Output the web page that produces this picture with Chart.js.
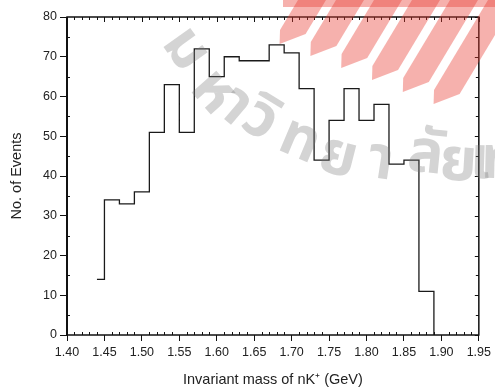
<!DOCTYPE html>
<html>
<head>
<meta charset="utf-8">
<script src="https://cdn.jsdelivr.net/npm/chart.js@4"></script>
<style>
  html, body { margin: 0; padding: 0; background: #fff; }
  #wrap { width: 495px; height: 388px; }
</style>
</head>
<body>
<div id="wrap"><canvas id="mass-chart" width="495" height="388"></canvas></div>
<script>
// left edge of each bin (GeV) and the events counted in it
const binStart = [1.44, 1.45, 1.47, 1.49, 1.51, 1.53, 1.55, 1.57, 1.59, 1.61, 1.63, 1.65,
    1.67, 1.69, 1.71, 1.73, 1.75, 1.77, 1.79, 1.81, 1.83, 1.85, 1.87]
const counts = [14, 34, 33, 36, 51, 63, 51, 72, 65, 70, 69, 69,
    73, 71, 62, 44, 54, 62, 54, 58, 43, 44, 11]
const lastEdge = 1.89

const xTicks = [1.40, 1.45, 1.50, 1.55, 1.60, 1.65, 1.70, 1.75, 1.80, 1.85, 1.90, 1.95]
const yTicks = [0, 10, 20, 30, 40, 50, 60, 70, 80]

const points = binStart.map((x, i) => ({ x: x, y: counts[i] }))
points.push({ x: lastEdge, y: 0 })

const family = '"Liberation Sans", Arial, sans-serif'

// frame + small inward ticks on all four sides
const frame = {
    id: 'frame',
    afterDraw(chart) {
        const ctx = chart.ctx
        const a = chart.chartArea
        const xs = chart.scales.x
        const ys = chart.scales.y
        ctx.save()
        ctx.strokeStyle = '#111'
        ctx.lineWidth = 1
        ctx.beginPath()
        for (let v = 140; v <= 195; v++) {
            const px = Math.round(xs.getPixelForValue(v / 100)) + 0.5
            const len = v % 5 === 0 ? 5 : 3
            if (v % 5 !== 0) { ctx.moveTo(px, a.bottom); ctx.lineTo(px, a.bottom - 3) }
            ctx.moveTo(px, a.top); ctx.lineTo(px, a.top + len)
        }
        for (let v = 0; v <= 80; v += 5) {
            const py = Math.round(ys.getPixelForValue(v)) + 0.5
            const len = v % 10 === 0 ? 4 : 3
            if (v % 10 !== 0) { ctx.moveTo(a.left, py); ctx.lineTo(a.left + 3, py) }
            ctx.moveTo(a.right, py); ctx.lineTo(a.right - len, py)
        }
        ctx.stroke()
        ctx.lineWidth = 1.5
        ctx.strokeRect(a.left, a.top, a.right - a.left, a.bottom - a.top)
        ctx.lineWidth = 2
        ctx.beginPath()
        ctx.moveTo(a.left, a.top); ctx.lineTo(a.left, a.bottom)
        ctx.stroke()
        ctx.restore()
    }
}

// faint scan watermark (red logo stripes + grey Thai lettering)
const watermark = {
    id: 'watermark',
    afterDraw(chart) {
        const ctx = chart.ctx
        ctx.save()
        ctx.fillStyle = 'rgba(232, 60, 50, 0.4)'
        for (let i = 0; i < 6; i++) {
            const top = 298 + i * 38
            const yb = 44 + i * 12
            ctx.beginPath()
            ctx.moveTo(top, 0)
            ctx.lineTo(top + 28, 0)
            ctx.lineTo(top + 28 - 0.6 * (yb - 10), yb - 10)
            ctx.lineTo(top - 0.6 * yb + 8, yb)
            ctx.lineTo(top - 0.6 * (yb - 14), yb - 14)
            ctx.closePath()
            ctx.fill()
        }
        ctx.fillRect(283, 0, 212, 7)
        ctx.fillStyle = 'rgba(120, 120, 120, 0.32)'
        ctx.font = 'bold 60px "Noto Sans Thai", "Noto Sans", "DejaVu Sans", sans-serif'
        ctx.textAlign = 'center'
        ctx.textBaseline = 'middle'
        const glyphs = [
            ['ม', 182, 52, 0.95], ['ห', 210, 95, 0.85], ['า', 232, 110, 0.7],
            ['วิ', 258, 124, 0.55], ['ท', 298, 145, 0.4], ['ย', 337, 162, 0.25],
            ['า', 380, 166, 0.15], ['ลั', 425, 160, 0.1], ['ย', 458, 168, 0.06],
            ['เ', 480, 166, 0.03], ['ท', 500, 166, 0.02]
        ]
        for (const g of glyphs) {
            ctx.save()
            ctx.translate(g[1], g[2])
            ctx.rotate(g[3])
            ctx.fillText(g[0], 0, 0)
            ctx.restore()
        }
        ctx.restore()
    }
}

new Chart(document.getElementById('mass-chart'), {
    type: 'scatter',
    data: {
        datasets: [{
            data: points,
            showLine: true,
            stepped: true,
            borderColor: '#1a1a1a',
            borderWidth: 1.3,
            pointRadius: 0,
            fill: false
        }]
    },
    options: {
        responsive: false,
        animation: false,
        layout: { padding: { top: 17, right: 10, left: 0, bottom: 0 } },
        plugins: { legend: { display: false }, tooltip: { enabled: false } },
        scales: {
            x: {
                type: 'linear',
                min: 1.40,
                max: 1.95,
                afterBuildTicks: s => { s.ticks = xTicks.map(v => ({ value: v })) },
                afterFit: s => { s.height = 53 },
                border: { display: false },
                grid: { drawOnChartArea: false, tickLength: 6, color: '#111', tickWidth: 1 },
                ticks: { color: '#222', font: { family: family, size: 12.5 }, padding: 4, maxRotation: 0, callback: v => v.toFixed(2) },
                title: { display: true, text: 'Invariant mass of nK\u207A (GeV)', color: '#222', font: { family: family, size: 14.5 }, padding: { top: 6, bottom: -1 } }
            },
            y: {
                min: 0,
                max: 80,
                afterBuildTicks: s => { s.ticks = yTicks.map(v => ({ value: v })) },
                afterFit: s => { s.width = 67 },
                border: { display: false },
                grid: { drawOnChartArea: false, tickLength: 7, color: '#111', tickWidth: 1 },
                ticks: { color: '#222', font: { family: family, size: 12.5 }, padding: 3 },
                title: { display: true, text: 'No. of Events', color: '#222', font: { family: family, size: 14.5 }, padding: { top: 8, bottom: 8 } }
            }
        }
    },
    plugins: [frame, watermark]
})
</script>
</body>
</html>
